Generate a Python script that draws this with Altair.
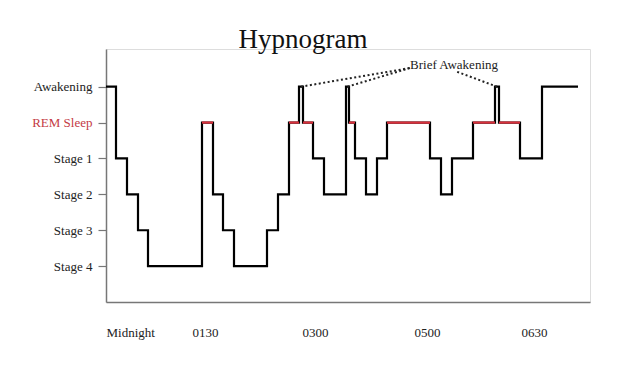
import altair as alt
import pandas as pd

# Time index (arbitrary units along the night) and sleep level at each change
times = [0, 10, 21, 32, 42, 96, 107, 117, 128, 161, 172, 183, 193, 197, 207, 218,
         240, 243, 249, 260, 271, 281, 324, 335, 346, 367, 389, 393, 414, 436, 472]
levels = [5, 3, 2, 1, 0, 4, 2, 1, 0, 1, 2, 4, 5, 4, 3, 2,
          5, 4, 3, 2, 3, 4, 3, 2, 3, 4, 5, 4, 3, 5, 5]

stage_names = ["Stage 4", "Stage 3", "Stage 2", "Stage 1", "REM Sleep", "Awakening"]
time_ticks = [0, 86, 196, 308, 415]
time_labels = ["Midnight", "0130", "0300", "0500", "0630"]

df = pd.DataFrame({"t": times, "level": levels})
df["t_next"] = df["t"].shift(-1)

rem = df[(df["level"] == 4) & df["t_next"].notna()]
brief = df[(df["level"] == 5) & ((df["t_next"] - df["t"]) < 6)].copy()
brief["mid"] = (brief["t"] + brief["t_next"]) / 2
brief["side"] = ["left", "left", "right"]

FONT = "Liberation Serif"

xlab = " : ".join(
    f"datum.value == {v} ? '{l}'" for v, l in zip(time_ticks, time_labels)
) + " : ''"
ylab = " : ".join(
    f"datum.value == {i} ? '{n}'" for i, n in enumerate(stage_names)
) + " : ''"

x = alt.X(
    "t:Q",
    scale=alt.Scale(domain=[0, 484], nice=False, zero=False),
    axis=alt.Axis(
        values=time_ticks, labelExpr=xlab, title=None, grid=False,
        ticks=False, labelAlign="left", labelPadding=24, labelFontSize=13,
        labelFont=FONT, labelColor="#222", domainColor="#777", domainWidth=1.5,
    ),
)
y = alt.Y(
    "level:Q",
    scale=alt.Scale(domain=[-1, 6.05], nice=False, zero=False),
    axis=alt.Axis(
        values=[0, 1, 2, 3, 4, 5], labelExpr=ylab, title=None, grid=False,
        tickSize=8, tickColor="#777", tickWidth=1.2, labelPadding=6,
        labelFontSize=13, labelFont=FONT,
        labelColor={"condition": {"test": "datum.value == 4", "value": "#c43a45"}, "value": "#222"},
        domainColor="#777", domainWidth=1.5,
    ),
)

line = alt.Chart(df).mark_line(
    interpolate="step-after", color="black", strokeWidth=2.2
).encode(x=x, y=y)

red = alt.Chart(rem).mark_rule(color="#d9303c", strokeWidth=2.2).encode(
    x="t:Q", x2="t_next:Q", y="level:Q"
)

left_lines = alt.Chart(brief[brief["side"] == "left"]).mark_rule(
    color="#222", strokeWidth=2, strokeDash=[2, 2.5]
).encode(x="mid:Q", y="level:Q", x2=alt.value(304), y2=alt.value(19))

right_lines = alt.Chart(brief[brief["side"] == "right"]).mark_rule(
    color="#222", strokeWidth=2, strokeDash=[2, 2.5]
).encode(x="mid:Q", y="level:Q", x2=alt.value(349), y2=alt.value(22))

brief_text = alt.Chart(pd.DataFrame({"txt": ["Brief Awakening"]})).mark_text(
    font=FONT, fontSize=13, color="#222", align="center", baseline="alphabetic"
).encode(text="txt:N", x=alt.value(348), y=alt.value(20))

title = alt.Chart(pd.DataFrame({"txt": ["Hypnogram"]})).mark_text(
    font=FONT, fontSize=27, color="#111", align="center", baseline="alphabetic"
).encode(text="txt:N", x=alt.value(197), y=alt.value(-1))

chart = alt.layer(line, red, left_lines, right_lines, brief_text, title).properties(
    width=484, height=253,
    autosize=alt.AutoSizeParams(type="none"),
    padding={"left": 98, "top": 41, "right": 20, "bottom": 50},
).configure_view(stroke=None).configure(background="white")

chart.save("out.html", embed_options={"renderer": "svg", "actions": False})
